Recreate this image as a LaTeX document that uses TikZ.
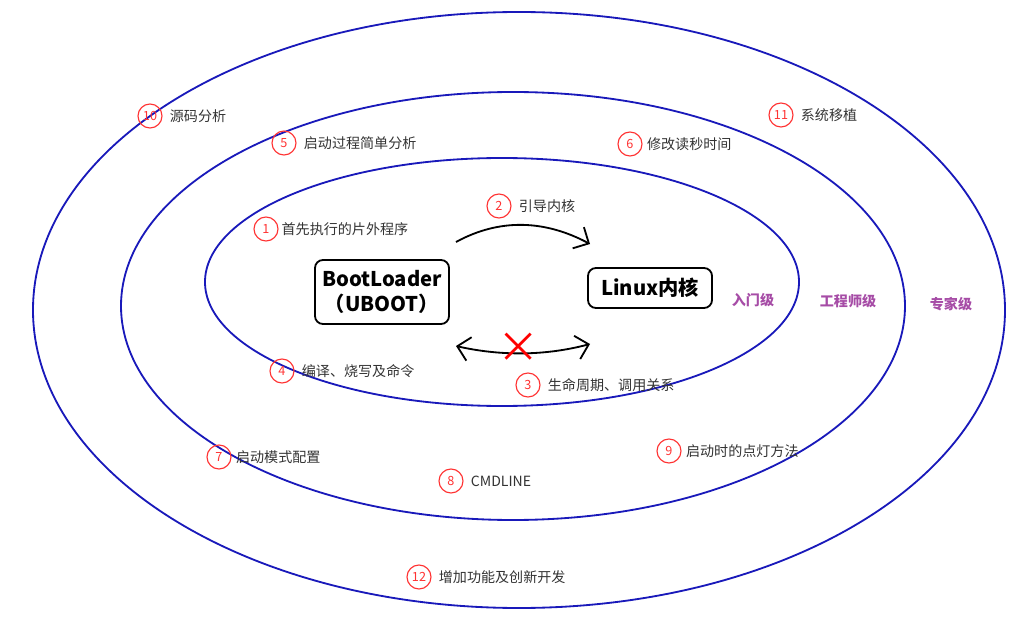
\documentclass[tikz,border=0pt]{standalone}
\usepackage{fontspec}
\setmainfont{Noto Sans CJK SC}
\usetikzlibrary{arrows.meta,positioning}

\begin{document}
\begin{tikzpicture}[
    x=0.025cm, y=-0.025cm,
    ring/.style={draw=blue!70!black!90, line width=1.3pt},
    num/.style={circle, draw=red!80, line width=0.8pt, text=red!80, inner sep=0pt,
                minimum size=0.6cm, font=\small},
    lbl/.style={font=\normalsize, text=black!80, inner sep=1pt},
    level/.style={font=\normalsize\bfseries, text=violet!70},
    box/.style={rectangle, rounded corners=2mm, draw=black, line width=1.3pt,
                align=center, font=\Large\bfseries, inner sep=3pt}
]

\useasboundingbox (0,0) rectangle (1015,623);

% Rings
\draw[ring] (519,310) ellipse [x radius=486, y radius=298];
\draw[ring] (513,306) ellipse [x radius=392, y radius=214];
\draw[ring] (502,282) ellipse [x radius=297, y radius=124];

% Levels
\node[level] (beginner) at (753,300) {入门级};
\node[level] (engineer) at (848,301) {工程师级};
\node[level] (expert) at (951,304) {专家级};

% Core boxes
\node[box, minimum width=3.35cm, minimum height=1.6cm] (boot) at (382,292) {BootLoader\\（UBOOT）};
\node[box, minimum width=3.1cm, minimum height=1cm] (linux) at (650,288) {Linux内核};

% Connections
\coordinate (a1) at (456,242);
\coordinate (a2) at (590,244);
\coordinate (b1) at (456,346);
\coordinate (b2) at (590,344);
\draw[-{Straight Barb[length=3mm]}, line width=1.3pt] (a1) .. controls (500,218) and (545,220) .. (a2);
\draw[{Straight Barb[length=3mm]}-{Straight Barb[length=3mm]}, line width=1.3pt]
    (b1) .. controls (500,356) and (545,356) .. (b2);
\node[text=red, font=\fontsize{30}{30}\selectfont, inner sep=0pt] (cross) at (519,348) {×};

% Numbered labels
\node[num] (n1) at (266,229) {1};
\node[lbl, right=1pt of n1] (t1) {首先执行的片外程序};
\node[num] (n2) at (499,206) {2};
\node[lbl, right=4pt of n2] (t2) {引导内核};
\node[num] (n3) at (528,385) {3};
\node[lbl, right=4pt of n3] (t3) {生命周期、调用关系};
\node[num] (n4) at (282,371) {4};
\node[lbl, right=4pt of n4] (t4) {编译、烧写及命令};
\node[num] (n5) at (284,143) {5};
\node[lbl, right=4pt of n5] (t5) {启动过程简单分析};
\node[num] (n6) at (630,144) {6};
\node[lbl, right=2pt of n6] (t6) {修改读秒时间};
\node[num] (n7) at (219,457) {7};
\node[lbl, right=2pt of n7] (t7) {启动模式配置};
\node[num] (n8) at (451,481) {8};
\node[lbl, right=4pt of n8] (t8) {CMDLINE};
\node[num] (n9) at (669,451) {9};
\node[lbl, right=2pt of n9] (t9) {启动时的点灯方法};
\node[num] (n10) at (150,116) {10};
\node[lbl, right=4pt of n10] (t10) {源码分析};
\node[num] (n11) at (781,115) {11};
\node[lbl, right=4pt of n11] (t11) {系统移植};
\node[num] (n12) at (419,577) {12};
\node[lbl, right=4pt of n12] (t12) {增加功能及创新开发};

\end{tikzpicture}
\end{document}
